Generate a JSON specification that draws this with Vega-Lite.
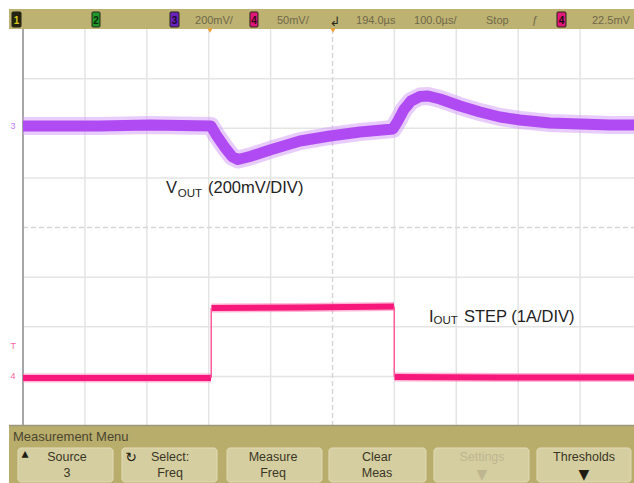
{
  "$schema": "https://vega.github.io/schema/vega-lite/v6.json",
  "width": 611,
  "height": 397,
  "autosize": {"type": "none"},
  "padding": {"left": 23, "top": 29, "right": 0, "bottom": 57},
  "background": "white",
  "config": {"view": {"stroke": null}, "font": "Liberation Sans, Arial, sans-serif"},
  "resolve": {"scale": {"color": "independent"}},
  "datasets": {
    "gridv": [{"x": 1, "y": 0, "y2": 8}, {"x": 2, "y": 0, "y2": 8}, {"x": 3, "y": 0, "y2": 8}, {"x": 4, "y": 0, "y2": 8}, {"x": 6, "y": 0, "y2": 8}, {"x": 7, "y": 0, "y2": 8}, {"x": 8, "y": 0, "y2": 8}, {"x": 9, "y": 0, "y2": 8}],
    "gridh": [{"x": 0, "x2": 9.871, "y": 1}, {"x": 0, "x2": 9.871, "y": 2}, {"x": 0, "x2": 9.871, "y": 3}, {"x": 0, "x2": 9.871, "y": 5}, {"x": 0, "x2": 9.871, "y": 6}, {"x": 0, "x2": 9.871, "y": 7}],
    "center": [{"x": 5, "x2": 5, "y": 0, "y2": 8}, {"x": 0, "x2": 9.871, "y": 4, "y2": 4}],
    "border": [{"x": 0, "y": 0, "y2": 8}],
    "vout": [
      {"x": 0, "y": 6.045}, {"x": 1.244, "y": 6.045}, {"x": 2.052, "y": 6.065}, {"x": 3.037, "y": 6.045},
      {"x": 3.118, "y": 5.874}, {"x": 3.263, "y": 5.612}, {"x": 3.376, "y": 5.431}, {"x": 3.473, "y": 5.37},
      {"x": 3.667, "y": 5.431}, {"x": 3.99, "y": 5.562}, {"x": 4.475, "y": 5.743}, {"x": 4.96, "y": 5.844},
      {"x": 5.444, "y": 5.924}, {"x": 5.977, "y": 5.985}, {"x": 6.058, "y": 6.15}, {"x": 6.155, "y": 6.38},
      {"x": 6.268, "y": 6.55}, {"x": 6.414, "y": 6.64}, {"x": 6.543, "y": 6.65}, {"x": 6.737, "y": 6.589},
      {"x": 7.06, "y": 6.448}, {"x": 7.383, "y": 6.327}, {"x": 7.706, "y": 6.227}, {"x": 8.029, "y": 6.166},
      {"x": 8.514, "y": 6.106}, {"x": 8.998, "y": 6.086}, {"x": 9.483, "y": 6.065}, {"x": 9.871, "y": 6.065}
    ],
    "iout": [
      {"seg": "low1", "x": 0, "y": 0.967}, {"seg": "low1", "x": 3.037, "y": 0.967},
      {"seg": "high", "x": 3.045, "y": 2.378}, {"seg": "high", "x": 4.475, "y": 2.388}, {"seg": "high", "x": 5.994, "y": 2.408},
      {"seg": "low2", "x": 6.002, "y": 0.987}, {"seg": "low2", "x": 7.706, "y": 0.977}, {"seg": "low2", "x": 9.871, "y": 0.977}
    ],
    "edges": [{"x": 3.041, "y": 0.967, "y2": 2.378}, {"x": 5.998, "y": 0.987, "y2": 2.408}],
    "labels": [
      {"x": 2.31, "y": 4.695, "t": "V"}, {"x": 2.989, "y": 4.695, "t": "(200mV/DIV)"},
      {"x": 6.559, "y": 2.096, "t": "I"}, {"x": 7.124, "y": 2.096, "t": "STEP (1A/DIV)"}
    ],
    "subs": [{"x": 2.5, "y": 4.615, "t": "OUT"}, {"x": 6.632, "y": 2.055, "t": "OUT"}],
    "leftmarks": [
      {"x": -0.2, "y": 5.98, "t": "3", "ch": "3"},
      {"x": -0.2, "y": 1.55, "t": "T", "ch": "4"},
      {"x": -0.2, "y": 0.94, "t": "4", "ch": "4"}
    ],
    "topbar": [{"x": -0.226, "x2": 10, "y": 8.0, "y2": 8.403}],
    "boxes": [
      {"ch": "1", "x": -0.178, "x2": -0.032, "y": 8.04, "y2": 8.343},
      {"ch": "2", "x": 1.115, "x2": 1.244, "y": 8.04, "y2": 8.343},
      {"ch": "3", "x": 2.375, "x2": 2.52, "y": 8.04, "y2": 8.343},
      {"ch": "4", "x": 3.667, "x2": 3.796, "y": 8.04, "y2": 8.343},
      {"ch": "T", "x": 8.627, "x2": 8.772, "y": 8.04, "y2": 8.343}
    ],
    "boxdigits": [
      {"ch": "1", "x": -0.105, "y": 8.101, "t": "1"},
      {"ch": "2", "x": 1.179, "y": 8.101, "t": "2"},
      {"ch": "3", "x": 2.447, "y": 8.101, "t": "3"},
      {"ch": "4", "x": 3.732, "y": 8.101, "t": "4"},
      {"ch": "T", "x": 8.7, "y": 8.101, "t": "4"}
    ],
    "bartext": [
      {"x": 2.779, "y": 8.101, "t": "200mV/"},
      {"x": 4.103, "y": 8.101, "t": "50mV/"},
      {"x": 5.38, "y": 8.101, "t": "194.0µs"},
      {"x": 6.317, "y": 8.101, "t": "100.0µs/"},
      {"x": 7.48, "y": 8.101, "t": "Stop"},
      {"x": 8.223, "y": 8.101, "t": "ƒ"},
      {"x": 9.192, "y": 8.101, "t": "22.5mV"}
    ],
    "trig": [{"x": 5.04, "y": 8.06, "t": "↲"}],
    "orange": [{"x": 3.021, "y": 7.97}, {"x": 5.008, "y": 7.97}],
    "menubar": [{"x": -0.226, "x2": 10, "y": 0.02, "y2": -1.3}],
    "menuline": [{"x": -0.226, "x2": 10, "y": 0.01}],
    "menutitle": [{"x": -0.162, "y": -0.302, "t": "Measurement Menu"}],
    "buttons": [
      {"x": -0.081, "x2": 1.454, "y": -0.443, "y2": -1.128},
      {"x": 1.599, "x2": 3.134, "y": -0.443, "y2": -1.128},
      {"x": 3.296, "x2": 4.83, "y": -0.443, "y2": -1.128},
      {"x": 4.943, "x2": 6.51, "y": -0.443, "y2": -1.128},
      {"x": 6.64, "x2": 8.174, "y": -0.443, "y2": -1.128},
      {"x": 8.304, "x2": 9.822, "y": -0.443, "y2": -1.128}
    ],
    "btext": [
      {"x": 0.711, "y": -0.705, "t": "Source", "s": "on"}, {"x": 0.711, "y": -1.028, "t": "3", "s": "on"},
      {"x": 2.375, "y": -0.705, "t": "Select:", "s": "on"}, {"x": 2.375, "y": -1.028, "t": "Freq", "s": "on"},
      {"x": 4.039, "y": -0.705, "t": "Measure", "s": "on"}, {"x": 4.039, "y": -1.028, "t": "Freq", "s": "on"},
      {"x": 5.719, "y": -0.705, "t": "Clear", "s": "on"}, {"x": 5.719, "y": -1.028, "t": "Meas", "s": "on"},
      {"x": 7.415, "y": -0.705, "t": "Settings", "s": "off"},
      {"x": 9.063, "y": -0.705, "t": "Thresholds", "s": "on"}
    ],
    "bicons": [
      {"x": 0.032, "y": -0.64, "t": "▴", "s": "on"},
      {"x": 1.745, "y": -0.72, "t": "↻", "s": "on"},
      {"x": 7.415, "y": -1.06, "t": "▼", "s": "off"},
      {"x": 9.063, "y": -1.06, "t": "▼", "s": "on"}
    ]
  },
  "encoding": {
    "x": {"field": "x", "type": "quantitative", "scale": {"domain": [0, 9.871], "nice": false, "zero": false}, "axis": null},
    "y": {"field": "y", "type": "quantitative", "scale": {"domain": [0, 8], "nice": false, "zero": false}, "axis": null}
  },
  "layer": [
    {"data": {"name": "gridv"}, "mark": {"type": "rule", "color": "#e4e4e4", "strokeWidth": 1.5}, "encoding": {"y2": {"field": "y2"}}},
    {"data": {"name": "gridh"}, "mark": {"type": "rule", "color": "#e4e4e4", "strokeWidth": 1.5}, "encoding": {"x2": {"field": "x2"}}},
    {"data": {"name": "center"}, "mark": {"type": "rule", "color": "#d6d6d6", "strokeWidth": 1.5, "strokeDash": [5, 3]}, "encoding": {"x2": {"field": "x2"}, "y2": {"field": "y2"}}},
    {"data": {"name": "border"}, "mark": {"type": "rule", "color": "#a6a6a6", "strokeWidth": 2}, "encoding": {"y2": {"field": "y2"}}},
    {"data": {"name": "vout"}, "mark": {"type": "line", "color": "#d29af8", "strokeWidth": 18, "opacity": 0.5, "strokeJoin": "round", "strokeCap": "butt"}, "encoding": {}},
    {"data": {"name": "vout"}, "mark": {"type": "line", "color": "#b04af2", "strokeWidth": 11, "strokeJoin": "round", "strokeCap": "butt"}, "encoding": {}},
    {"data": {"name": "iout"}, "mark": {"type": "line", "color": "#ff7ab2", "strokeWidth": 9, "opacity": 0.55, "strokeCap": "butt"}, "encoding": {"detail": {"field": "seg"}}},
    {"data": {"name": "iout"}, "mark": {"type": "line", "color": "#f7187c", "strokeWidth": 6, "strokeCap": "butt"}, "encoding": {"detail": {"field": "seg"}}},
    {"data": {"name": "edges"}, "mark": {"type": "rule", "color": "#ff5a9c", "strokeWidth": 1.5}, "encoding": {"y2": {"field": "y2"}}},
    {"data": {"name": "labels"}, "mark": {"type": "text", "fontSize": 16.5, "align": "left", "baseline": "alphabetic", "color": "#1e1e1e"}, "encoding": {"text": {"field": "t"}}},
    {"data": {"name": "subs"}, "mark": {"type": "text", "fontSize": 11.5, "align": "left", "baseline": "alphabetic", "color": "#1e1e1e"}, "encoding": {"text": {"field": "t"}}},
    {"data": {"name": "leftmarks"}, "mark": {"type": "text", "fontSize": 9, "align": "left", "baseline": "alphabetic", "opacity": 0.7}, "encoding": {"text": {"field": "t"}, "color": {"field": "ch", "type": "nominal", "scale": {"domain": ["3", "4"], "range": ["#a93ef0", "#f7167a"]}, "legend": null}}},
    {"data": {"name": "topbar"}, "mark": {"type": "rect", "color": "#beb272"}, "encoding": {"x2": {"field": "x2"}, "y2": {"field": "y2"}}},
    {"data": {"name": "boxes"}, "mark": {"type": "rect", "stroke": "#262616", "strokeWidth": 1, "cornerRadius": 1}, "encoding": {"x2": {"field": "x2"}, "y2": {"field": "y2"}, "color": {"field": "ch", "type": "nominal", "scale": {"domain": ["1", "2", "3", "4", "T"], "range": ["#23230f", "#1f9a2a", "#6a22bc", "#e0177a", "#e0177a"]}, "legend": null}}},
    {"data": {"name": "boxdigits"}, "mark": {"type": "text", "fontSize": 10, "fontWeight": "bold", "align": "center", "baseline": "alphabetic"}, "encoding": {"text": {"field": "t"}, "color": {"field": "ch", "type": "nominal", "scale": {"domain": ["1", "2", "3", "4", "T"], "range": ["#d8c820", "#0c2a0c", "#1a0830", "#3a0418", "#1a0a10"]}, "legend": null}}},
    {"data": {"name": "bartext"}, "mark": {"type": "text", "fontSize": 11, "align": "left", "baseline": "alphabetic", "color": "#6f684a"}, "encoding": {"text": {"field": "t"}}},
    {"data": {"name": "trig"}, "mark": {"type": "text", "fontSize": 13, "font": "DejaVu Sans", "align": "center", "baseline": "alphabetic", "color": "#2c2a1c"}, "encoding": {"text": {"field": "t"}}},
    {"data": {"name": "orange"}, "mark": {"type": "point", "shape": "triangle-down", "size": 28, "filled": true, "color": "#f0a038", "opacity": 1}, "encoding": {}},
    {"data": {"name": "menubar"}, "mark": {"type": "rect", "color": "#b9ad6c"}, "encoding": {"x2": {"field": "x2"}, "y2": {"field": "y2"}}},
    {"data": {"name": "menuline"}, "mark": {"type": "rule", "color": "#9c977c", "strokeWidth": 1.5}, "encoding": {"x2": {"field": "x2"}}},
    {"data": {"name": "menutitle"}, "mark": {"type": "text", "fontSize": 13, "align": "left", "baseline": "alphabetic", "color": "#4a4530"}, "encoding": {"text": {"field": "t"}}},
    {"data": {"name": "buttons"}, "mark": {"type": "rect", "color": "#d5cea0", "stroke": "#e2dcb8", "strokeWidth": 1, "cornerRadius": 3}, "encoding": {"x2": {"field": "x2"}, "y2": {"field": "y2"}}},
    {"data": {"name": "btext"}, "mark": {"type": "text", "fontSize": 12.5, "align": "center", "baseline": "alphabetic"}, "encoding": {"text": {"field": "t"}, "color": {"field": "s", "type": "nominal", "scale": {"domain": ["on", "off"], "range": ["#3a3626", "#bdb690"]}, "legend": null}}},
    {"data": {"name": "bicons"}, "mark": {"type": "text", "fontSize": 14, "font": "DejaVu Sans", "align": "center", "baseline": "alphabetic"}, "encoding": {"text": {"field": "t"}, "color": {"field": "s", "type": "nominal", "scale": {"domain": ["on", "off"], "range": ["#1e1c12", "#bdb690"]}, "legend": null}}}
  ]
}
